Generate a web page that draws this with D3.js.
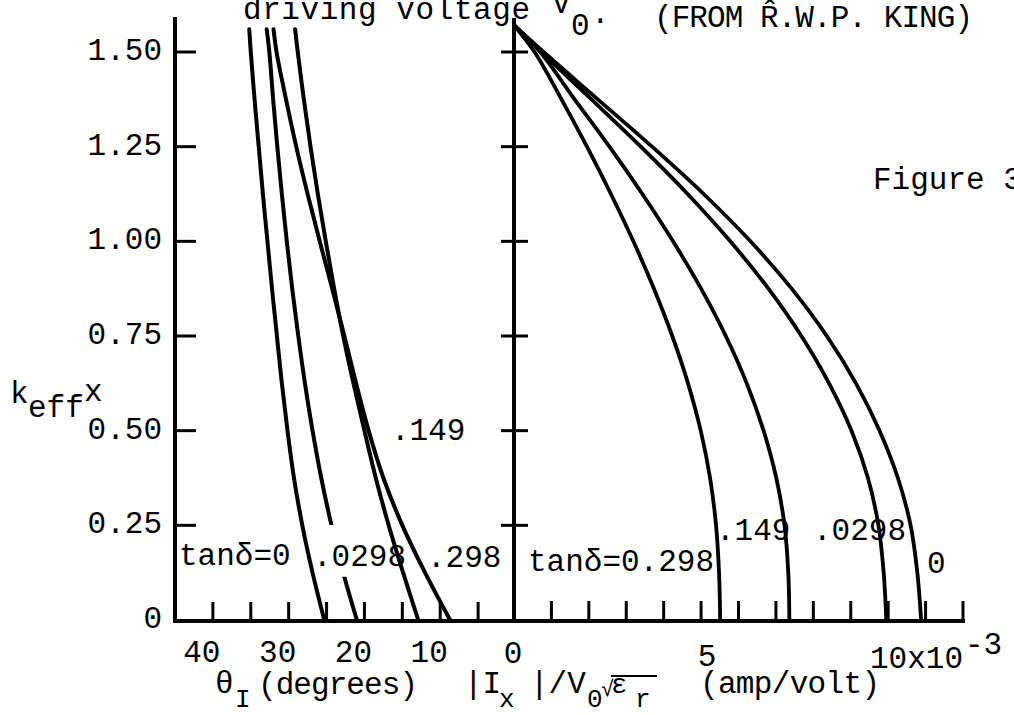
<!DOCTYPE html>
<html>
<head>
<meta charset="utf-8">
<script src="https://cdnjs.cloudflare.com/ajax/libs/d3/7.8.5/d3.min.js"></script>
<style>
body{margin:0;background:#fff;overflow:hidden;}
text{font-family:"Liberation Mono","DejaVu Sans Mono",monospace;font-size:31px;fill:#000;}
text.sub{font-size:26px;}
.ax{stroke:#000;stroke-width:4;fill:none;}
.tk{stroke:#000;stroke-width:3;}
.curve{stroke:#000;stroke-width:4;fill:none;stroke-linecap:round;}
</style>
</head>
<body>
<div id="chart"></div>
<script>
var width=1014,height=715;

// k_eff x levels at which the curves were read
var kTheta=[0,0.125,0.25,0.375,0.5,0.625,0.75,0.875,1.0,1.125,1.25,1.375,1.5,1.56];
var theta_0   =[25.3,26.85,28.2,29.3,30.15,30.9,31.55,32.2,32.8,33.4,33.95,34.5,35.0,35.2];
var theta_0298=[21.0,22.8,24.35,25.7,26.85,27.85,28.73,29.53,30.25,30.9,31.5,32.05,32.55,32.9];
var theta_149 =[12.9,14.9,16.8,18.5,20.0,21.45,22.8,24.0,25.1,26.15,27.12,28.0,28.8,29.15];
var theta_298 =[8.7,12.0,15.0,17.5,19.45,21.1,22.65,24.25,25.9,27.5,29.0,30.35,31.6,32.0];

var kCurrent=[0,0.125,0.25,0.375,0.5,0.625,0.75,0.875,1.0,1.125,1.25,1.375,1.5,1.5708];
var cur_0   =[10.88,10.78,10.60,10.26,9.77,9.14,8.36,7.42,6.32,5.07,3.69,2.24,0.79,0];
var cur_0298=[9.95,9.88,9.74,9.46,9.02,8.42,7.68,6.80,5.78,4.64,3.39,2.07,0.73,0];
var cur_149 =[7.36,7.33,7.23,7.01,6.67,6.22,5.66,5.00,4.25,3.43,2.55,1.62,0.70,0];
var cur_298 =[5.51,5.48,5.40,5.24,4.99,4.65,4.23,3.74,3.19,2.59,1.95,1.27,0.55,0];

var kTicks=[0.25,0.5,0.75,1.0,1.25,1.5];
var kLabelVals=[0,0.25,0.5,0.75,1.0,1.25,1.5];
var kLabels=["0","0.25","0.50","0.75","1.00","1.25","1.50"];
var thetaTicks=[5,10,15,20,25,30,35,40];
var thetaLabelVals=[40,30,20,10];
var curTicks=[1,2,3,4,5,6,7,8,9,10,11,12];

var y=d3.scaleLinear().domain([0,1.5]).range([620,52]);
var xT=d3.scaleLinear().domain([45,0]).range([175,516]);
var xI=d3.scaleLinear().domain([0,12]).range([514,963]);

var svg=d3.select("#chart").append("svg")
  .attr("width",width).attr("height",height)
  .style("background","#fff");

// gap in the .0298 theta curve where its label sits
var defs=svg.append("defs");
var gap=defs.append("clipPath").attr("id","gap0298");
gap.append("rect").attr("x",0).attr("y",0).attr("width",width).attr("height",y(0.251));
gap.append("rect").attr("x",0).attr("y",y(0.114)).attr("width",width).attr("height",height-y(0.114));

// axes
var axes=svg.append("g");
axes.append("line").attr("class","ax").attr("x1",xT(45)).attr("x2",xT(45)).attr("y1",17).attr("y2",622);
axes.append("line").attr("class","ax").attr("x1",xI(0)).attr("x2",xI(0)).attr("y1",18).attr("y2",622);
axes.append("line").attr("class","ax").attr("x1",xT(45)-2).attr("x2",xI(12)+2).attr("y1",621).attr("y2",621);

axes.selectAll(".tl").data(kTicks).enter().append("line").attr("class","tk")
  .attr("x1",xT(45)).attr("x2",xT(45)+21).attr("y1",d=>y(d)).attr("y2",d=>y(d));
axes.selectAll(".tr").data(kTicks).enter().append("line").attr("class","tk")
  .attr("x1",xI(0)-13).attr("x2",xI(0)+14).attr("y1",d=>y(d)).attr("y2",d=>y(d));
axes.selectAll(".tb").data(thetaTicks).enter().append("line").attr("class","tk")
  .attr("x1",d=>xT(d)).attr("x2",d=>xT(d)).attr("y1",621).attr("y2",602);
axes.selectAll(".tc").data(curTicks).enter().append("line").attr("class","tk")
  .attr("x1",d=>xI(d)).attr("x2",d=>xI(d)).attr("y1",621).attr("y2",601);

// tick labels
svg.append("g").selectAll("text").data(kLabelVals).enter().append("text")
  .attr("x",162).attr("y",d=>y(d)+8).attr("text-anchor","end")
  .text((d,i)=>kLabels[i]);
svg.append("g").selectAll("text").data(thetaLabelVals).enter().append("text")
  .attr("x",d=>xT(d)-11).attr("y",662).attr("text-anchor","middle")
  .text(d=>d);
svg.append("text").attr("x",513).attr("y",663).attr("text-anchor","middle").text("0");
svg.append("text").attr("x",xI(5)+6).attr("y",666).attr("text-anchor","middle").text("5");
svg.append("text").attr("x",870).attr("y",668).text("10x10");
svg.append("text").attr("x",965).attr("y",654).text("-3");

// curves
var lineT=d3.line().x(d=>xT(d[1])).y(d=>y(d[0])).curve(d3.curveCatmullRom);
var lineI=d3.line().x(d=>xI(d[1])).y(d=>y(d[0])).curve(d3.curveCatmullRom);

var thetaSeries=[theta_0,theta_0298,theta_149,theta_298];
var curSeries=[cur_0,cur_0298,cur_149,cur_298];

svg.append("g").selectAll("path").data(thetaSeries).enter().append("path")
  .attr("class","curve")
  .attr("clip-path",(d,i)=>i==1?"url(#gap0298)":null)
  .attr("d",d=>lineT(d3.zip(kTheta,d)));
svg.append("g").selectAll("path").data(curSeries).enter().append("path")
  .attr("class","curve").style("stroke-width",3.8)
  .attr("d",d=>lineI(d3.zip(kCurrent,d)));

// curve labels
svg.append("text").attr("x",179).attr("y",565).text("tan\u03b4=0");
svg.append("text").attr("x",313).attr("y",566).text(".0298");
svg.append("text").attr("x",427).attr("y",567).text(".298");
svg.append("text").attr("x",391).attr("y",440).text(".149");
svg.append("text").attr("x",528).attr("y",571).text("tan\u03b4=0.298");
svg.append("text").attr("x",716).attr("y",540).text(".149");
svg.append("text").attr("x",813).attr("y",540).text(".0298");
svg.append("text").attr("x",927).attr("y",573).text("0");

// y axis title
svg.append("text").attr("x",10).attr("y",403).text("k");
svg.append("text").attr("x",28).attr("y",417).text("eff");
svg.append("text").attr("x",84).attr("y",401).text("x");

// x axis titles
svg.append("text").attr("x",215).attr("y",693).text("\u03b8");
svg.append("text").attr("class","sub").attr("x",235).attr("y",707).text("I");
svg.append("text").attr("x",258).attr("y",694).attr("textLength",160).text("(degrees)");

svg.append("text").attr("x",464).attr("y",693).text("|I");
svg.append("text").attr("class","sub").attr("x",499).attr("y",707).text("x");
svg.append("text").attr("x",530).attr("y",693).text("|/V");
svg.append("text").attr("class","sub").attr("x",587).attr("y",707).text("0");
svg.append("text").attr("x",601).attr("y",696).style("font-size","22px").text("\u221a");
svg.append("line").attr("x1",611).attr("x2",657).attr("y1",676).attr("y2",676).attr("stroke","#000").attr("stroke-width",2);
svg.append("text").attr("x",611).attr("y",693).style("font-size","27px").text("\u03b5");
svg.append("text").attr("class","sub").attr("x",635).attr("y",707).text("r");
svg.append("text").attr("x",700).attr("y",693).attr("textLength",180).text("(amp/volt)");

// title fragments
svg.append("text").attr("x",243).attr("y",19).attr("textLength",287).text("driving voltage");
svg.append("text").attr("x",552).attr("y",13).text("V");
svg.append("text").attr("x",571).attr("y",35).text("0");
svg.append("text").attr("x",591).attr("y",23).text(".");
svg.append("text").attr("x",654).attr("y",27).attr("textLength",319).text("(FROM R\u0302.W.P. KING)");
svg.append("text").attr("x",873).attr("y",189).text("Figure 3");
</script>
</body>
</html>
